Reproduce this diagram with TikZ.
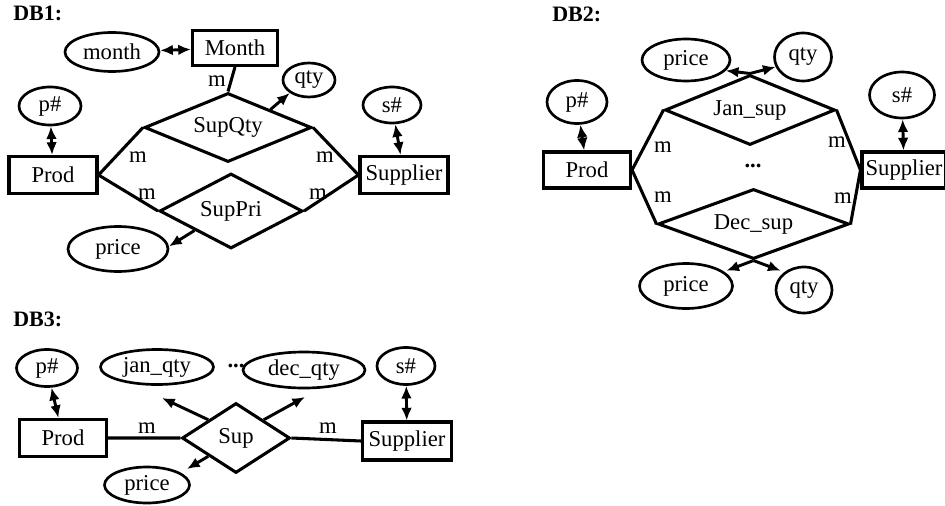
\documentclass[tikz,border=0pt]{standalone}
\usepackage{fontspec}
\setmainfont{Liberation Serif}
\usetikzlibrary{shapes.geometric,arrows.meta,calc}

\begin{document}
\begin{tikzpicture}[x=0.75pt,y=-0.75pt,
  every node/.style={font=\fontsize{17}{20}\selectfont, inner sep=0pt},
  bx/.style 2 args={draw, line width=2.3pt, rectangle,
    minimum width=#1*0.75pt, minimum height=#2*0.75pt},
  ell/.style 2 args={draw, line width=2pt, ellipse,
    minimum width=#1*0.75pt, minimum height=#2*0.75pt},
  dia/.style n args={3}{draw, line width=2.3pt, diamond, shape aspect=#3,
    minimum width=#1*0.75pt, minimum height=#2*0.75pt},
  ln/.style={line width=2.3pt},
  tip/.tip={Latex[length=9.5pt,width=8pt]},
  ar/.style={line width=2.2pt, -tip},
  dar/.style={line width=2.2pt, tip-tip},
  card/.style={anchor=base},
  title/.style={anchor=base west, font=\fontsize{16.5}{19}\selectfont\bfseries},
]
\useasboundingbox (0,0) rectangle (945,506);
\clip (0,0) rectangle (945,506);

% ---------------- DB1 ----------------
\node[title] (t1) at (13,21) {DB1:};
\node[ell={94}{39}] (mo1) at (112,52) {month};
\node[bx={85}{35}] (Mo1) at (235,48) {Month};
\node[ell={52}{34}] (q1) at (309,80) {qty};
\node[ell={62}{38}] (p1) at (50,106) {p\#};
\node[bx={88}{37}] (P1) at (53,175) {Prod};
\node[ell={58}{36}] (s1) at (392,105) {s\#};
\node[bx={88}{37}] (S1) at (404,175) {Supplier};
\node[dia={167}{69}{2.42}] (Q1) at (228,127.5) {SupQty};
\node[dia={143}{75}{1.91}] (R1) at (231,211) {SupPri};
\node[ell={100}{45}] (pr1) at (118,249) {price};

\draw[ln] (P1.east) -- (Q1.west) (P1.east) -- (R1.west)
          (S1.west) -- (Q1.east) (S1.west) -- (R1.east)
          (Mo1.south) -- (Q1.north);
\draw[dar] (mo1) -- (Mo1);
\draw[dar] (p1) -- (P1);
\draw[dar] (s1) -- (S1);
\coordinate (q1s) at ($(Q1.north)!0.5!(Q1.east)$);
\coordinate (r1s) at ($(R1.west)!0.5!(R1.south)$);
\draw[ar] (q1s) -- (q1.214);
\draw[ar] (r1s) -- (pr1.3);

\node[card] (m1a) at (217,87) {m};
\node[card] (m1b) at (138,162) {m};
\node[card] (m1c) at (147,199) {m};
\node[card] (m1d) at (325,162) {m};
\node[card] (m1e) at (318,199) {m};

% ---------------- DB2 ----------------
\node[title] (t2) at (552,22) {DB2:};
\node[ell={88}{42}] (pa2) at (686,60) {price};
\node[ell={57}{48}] (qa2) at (803,57) {qty};
\node[ell={60}{43}] (p2) at (577,102) {p\#};
\node[bx={87}{36}] (P2) at (587,170) {Prod};
\node[ell={65}{46}] (s2) at (902,95) {s\#};
\node[bx={84}{36}] (S2) at (904,170) {Supplier};
\node[dia={170}{70}{2.43}] (J2) at (750,110) {Jan\_sup};
\node[card] (dd2) at (753,167) {\textbf{...}};
\node[dia={191}{70}{2.73}] (D2) at (753.5,224) {Dec\_sup};
\node[ell={93}{45}] (pb2) at (686,286) {price};
\node[ell={56}{46}] (qb2) at (804,290) {qty};

\draw[ln] (P2.east) -- (J2.west) (P2.east) -- (D2.west)
          (S2.west) -- (J2.east) (S2.west) -- (D2.east);
\draw[dar] (p2) -- (P2);
\draw[dar] (s2) -- (S2);
\draw[ar] (J2.north) -- (pa2.-15);
\draw[ar] (J2.north) -- (qa2.200);
\coordinate (dq) at ($(D2.west)!1.28!(D2.south)$);
\coordinate (dp) at ($(D2.east)!1.28!(D2.south)$);
\draw[ar] (D2.south) -- (dq);
\draw[ar] (D2.south) -- (dp);

\node[card] (m2a) at (663,152) {m};
\node[card] (m2b) at (663,202) {m};
\node[card] (m2c) at (837,147) {m};
\node[card] (m2d) at (843,203) {m};

% ---------------- DB3 ----------------
\node[title] (t3) at (13,326) {DB3:};
\node[ell={61}{37}] (p3) at (47,368) {p\#};
\node[ell={113}{35}] (jq3) at (157,367) {jan\_qty};
\node[card] (dd3) at (236,367) {\textbf{...}};
\node[ell={122}{36}] (dq3) at (304,370) {dec\_qty};
\node[ell={58}{37}] (s3) at (406,366) {s\#};
\node[bx={87}{37}] (P3) at (63,438) {Prod};
\node[dia={108}{70}{1.54}] (U3) at (236,438) {Sup};
\node[bx={89}{38}] (S3) at (407,441) {Supplier};
\node[ell={85}{36}] (pr3) at (147,485) {price};

\draw[ln] (P3.east) -- (U3.west) (U3.east) -- (S3.west);
\draw[dar] (p3) -- (P3);
\draw[dar] (s3) -- (S3);
\coordinate (u3a) at ($(U3.west)!0.5!(U3.north)$);
\coordinate (u3b) at ($(U3.north)!0.5!(U3.east)$);
\coordinate (u3c) at ($(U3.west)!0.5!(U3.south)$);
\coordinate (jqt) at (162,398);
\coordinate (dqt) at (305,397);
\coordinate (prt) at (187,469);
\draw[ar] (u3a) -- (jqt);
\draw[ar] (u3b) -- (dqt);
\draw[ar] (u3c) -- (prt);

\node[card] (m3a) at (147,433) {m};
\node[card] (m3b) at (328,433) {m};
\end{tikzpicture}
\end{document}
